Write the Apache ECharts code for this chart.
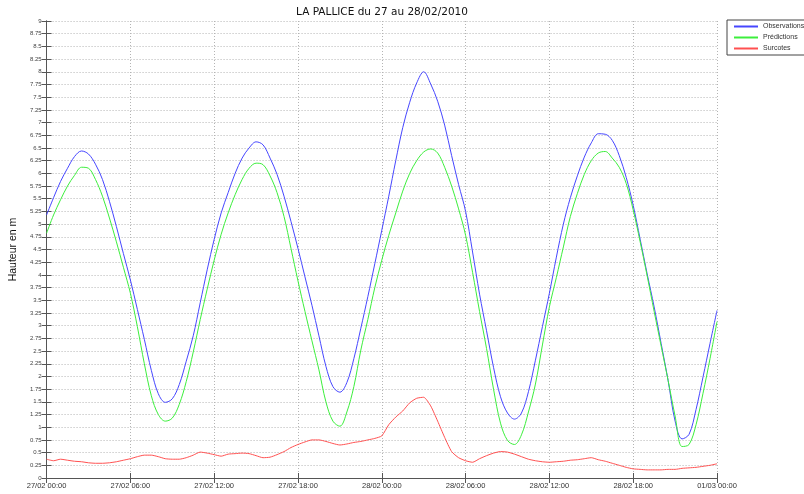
<!DOCTYPE html>
<html><head><meta charset="utf-8">
<script src="https://cdn.jsdelivr.net/npm/echarts@6/dist/echarts.min.js"></script>
<style>html,body{margin:0;padding:0;background:#fff}#c{width:804px;height:494px}</style>
</head><body><div id="c"></div><script>
// x tick labels (every 6 hours)
const tickLabels = ["27/02 00:00","27/02 06:00","27/02 12:00","27/02 18:00","28/02 00:00","28/02 06:00","28/02 12:00","28/02 18:00","01/03 00:00"];
// half-hourly samples from 27/02 00:00 to 01/03 00:00
const observations = [
  5.18,5.52,5.84,6.10,6.33,6.44,6.38,6.18,5.88,5.45,4.95,4.42,
  3.90,3.32,2.73,2.12,1.66,1.49,1.56,1.84,2.30,2.80,3.45,4.10,
  4.70,5.22,5.62,6.00,6.30,6.50,6.62,6.56,6.30,5.98,5.55,5.05,
  4.52,3.96,3.40,2.80,2.20,1.80,1.69,1.88,2.35,2.95,3.57,4.22,
  4.88,5.55,6.25,6.90,7.40,7.78,8.00,7.76,7.42,6.95,6.35,5.78,
  5.25,4.45,3.62,2.90,2.18,1.60,1.28,1.16,1.28,1.70,2.32,2.98,
  3.64,4.35,5.00,5.52,5.95,6.32,6.60,6.78,6.77,6.65,6.35,5.92,
  5.37,4.70,4.02,3.37,2.65,1.92,1.12,0.77,0.86,1.35,1.99,2.65,
  3.30
];
const predictions = [
  4.82,5.18,5.48,5.75,5.96,6.12,6.10,5.88,5.55,5.12,4.65,4.15,
  3.64,2.98,2.25,1.62,1.25,1.12,1.18,1.45,1.90,2.48,3.12,3.72,
  4.29,4.80,5.22,5.58,5.88,6.10,6.20,6.17,5.95,5.62,5.15,4.52,
  3.88,3.28,2.70,2.13,1.50,1.12,1.02,1.30,1.80,2.52,3.12,3.75,
  4.29,4.78,5.22,5.65,6.00,6.25,6.42,6.48,6.40,6.12,5.75,5.30,
  4.78,4.05,3.28,2.55,1.75,1.08,0.74,0.66,0.85,1.30,1.85,2.62,
  3.37,3.95,4.55,5.15,5.60,5.98,6.25,6.40,6.43,6.30,6.12,5.80,
  5.28,4.65,3.98,3.28,2.60,1.92,1.22,0.62,0.66,1.05,1.67,2.35,
  3.08
];
const surcotes = [
  0.37,0.34,0.37,0.35,0.33,0.32,0.30,0.29,0.29,0.30,0.32,0.35,
  0.38,0.42,0.45,0.45,0.42,0.38,0.37,0.37,0.40,0.45,0.51,0.49,
  0.46,0.43,0.47,0.48,0.49,0.48,0.44,0.40,0.41,0.46,0.52,0.60,
  0.66,0.71,0.75,0.75,0.72,0.68,0.65,0.67,0.70,0.72,0.75,0.78,
  0.83,1.05,1.20,1.32,1.48,1.57,1.59,1.42,1.12,0.80,0.52,0.40,
  0.34,0.31,0.38,0.44,0.49,0.52,0.51,0.47,0.42,0.37,0.34,0.32,
  0.31,0.32,0.33,0.35,0.36,0.38,0.40,0.36,0.33,0.29,0.25,0.21,
  0.18,0.17,0.16,0.16,0.16,0.17,0.17,0.19,0.20,0.21,0.23,0.25,
  0.28
];
const hours = observations.map((_, i) => i * 0.5);
const pairs = arr => arr.map((v, i) => [hours[i], v]);

const axisCol = '#555';
const chart = echarts.init(document.getElementById('c'), null, {renderer: 'canvas'});
chart.setOption({
  animation: false,
  backgroundColor: '#fff',
  title: {
    text: 'LA PALLICE du 27 au 28/02/2010',
    left: 377, top: 2, textAlign: 'center',
    textStyle: {fontFamily: 'DejaVu Sans', fontSize: 10.5, fontWeight: 'normal', color: '#111'}
  },
  legend: {
    orient: 'vertical', left: 727, top: 20,
    itemWidth: 24, itemHeight: 8, itemGap: 4,
    padding: [3, 20, 3, 6],
    borderColor: '#444', borderWidth: 1, backgroundColor: '#fff',
    itemStyle: {opacity: 0},
    textStyle: {fontFamily: 'Liberation Sans', fontSize: 7, color: '#333'},
    data: ['Observations', 'Prédictions', 'Surcotes']
  },
  grid: {left: 38, right: 87, top: 21, bottom: 16, containLabel: false},
  xAxis: [{
    type: 'value', min: 0, max: 48, interval: 6,
    axisLine: {lineStyle: {color: axisCol, width: 1}},
    axisTick: {inside: true, length: 5, lineStyle: {color: axisCol}},
    axisLabel: {margin: 4, fontFamily: 'Liberation Sans', fontSize: 7.5, color: '#333',
      formatter: v => tickLabels[Math.round(v / 6)] || ''},
    splitLine: {show: true, lineStyle: {color: '#b4b4b4', type: [1, 2], width: 1}}
  }, {
    type: 'value', min: 0, max: 48, interval: 6, position: 'top',
    axisLine: {show: true, lineStyle: {color: axisCol, width: 1}},
    axisTick: {inside: true, length: 5, lineStyle: {color: axisCol}},
    axisLabel: {show: false}, splitLine: {show: false}
  }],
  yAxis: [{
    type: 'value', min: 0, max: 9, interval: 0.25,
    name: 'Hauteur en m', nameLocation: 'middle', nameGap: 24, nameRotate: 90,
    nameTextStyle: {fontFamily: 'Liberation Sans', fontSize: 10.5, color: '#111'},
    axisLine: {show: true, lineStyle: {color: axisCol, width: 1}},
    axisTick: {show: true, inside: true, length: 5, lineStyle: {color: axisCol}},
    axisLabel: {margin: 5, fontFamily: 'Liberation Sans', fontSize: 6, color: '#444'},
    splitLine: {show: true, lineStyle: {color: '#b4b4b4', type: [1, 2], width: 1}}
  }, {
    type: 'value', min: 0, max: 9, interval: 0.25, position: 'right',
    axisLine: {show: true, lineStyle: {color: axisCol, width: 1}},
    axisTick: {show: true, inside: true, length: 5, lineStyle: {color: axisCol}},
    axisLabel: {show: false}, splitLine: {show: false}
  }],
  series: [
    {name: 'Observations', type: 'line', data: pairs(observations), symbol: 'none', smooth: 0.35,
     lineStyle: {color: '#4646ff', width: 1}, itemStyle: {color: '#4646ff'}},
    {name: 'Prédictions', type: 'line', data: pairs(predictions), symbol: 'none', smooth: 0.35,
     lineStyle: {color: '#3cee3c', width: 1}, itemStyle: {color: '#3cee3c'}},
    {name: 'Surcotes', type: 'line', data: pairs(surcotes), symbol: 'none', smooth: 0.2,
     lineStyle: {color: '#ff5050', width: 1}, itemStyle: {color: '#ff5050'}}
  ]
});
</script></body></html>
